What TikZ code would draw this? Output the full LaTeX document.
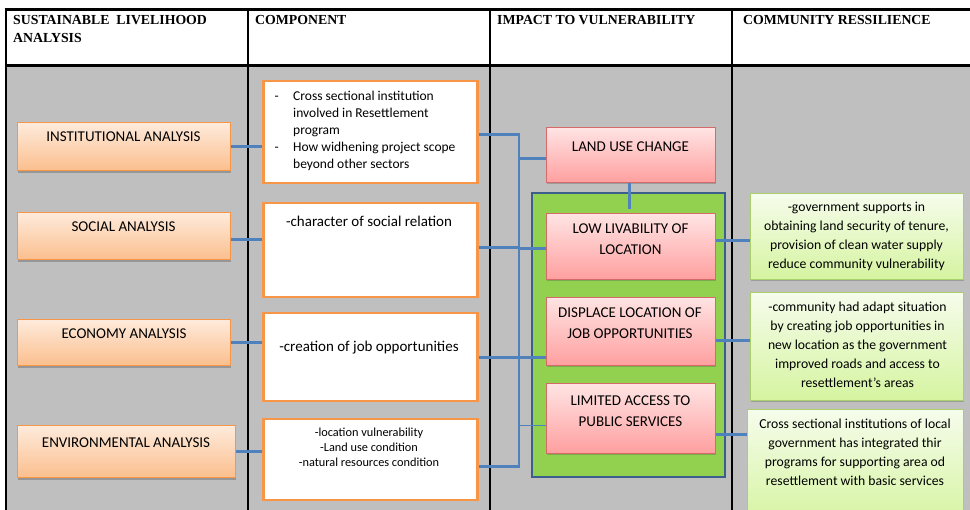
\documentclass[tikz,border=0pt]{standalone}
\usepackage{fontspec}
\setmainfont{Carlito}
\newfontfamily\hdfont{Liberation Serif}
\usetikzlibrary{shadows,calc}
\definecolor{bggray}{HTML}{BFBFBF}
\definecolor{orgborder}{HTML}{F79646}
\definecolor{orgtop}{HTML}{FEEBDC}
\definecolor{orgbot}{HTML}{FBBF8E}
\definecolor{pinkborder}{HTML}{D46A6A}
\definecolor{pinktop}{HTML}{FFE4E4}
\definecolor{pinkbot}{HTML}{FF9F9F}
\definecolor{resborder}{HTML}{A9D06B}
\definecolor{restop}{HTML}{F6FCEC}
\definecolor{resbot}{HTML}{D5F4A0}
\definecolor{contfill}{HTML}{92D050}
\definecolor{contborder}{HTML}{3B5E8C}
\definecolor{connblue}{HTML}{4F81BD}
\newcommand\fl{\rule{0pt}{0.8em}}
\tikzset{
  boxbase/.style={rectangle, inner sep=0pt, anchor=north west},
  orgbox/.style={boxbase, draw=orgborder, line width=0.8pt, top color=orgtop, bottom color=orgbot,
    drop shadow={shadow xshift=1pt, shadow yshift=-2.5pt, opacity=.35, fill=black!70}},
  compbox/.style={boxbase, draw=orgborder, line width=2.5pt, fill=white},
  pinkbox/.style={boxbase, draw=pinkborder, line width=0.8pt, top color=pinktop, bottom color=pinkbot,
    drop shadow={shadow xshift=1pt, shadow yshift=-2pt, opacity=.3, fill=black!70}},
  resbox/.style={boxbase, draw=resborder, line width=0.8pt, top color=restop, bottom color=resbot,
    drop shadow={shadow xshift=1pt, shadow yshift=-2pt, opacity=.3, fill=black!70}},
  contbox/.style={boxbase, draw=contborder, line width=2.2pt, fill=contfill},
  conn/.style={draw=connblue, line width=2.6pt},
  thinconn/.style={draw=connblue, line width=1.6pt},
  hd/.style={font=\hdfont\bfseries\fontsize{13.8}{18}\selectfont, inner sep=0pt, anchor=base west},
  lbl/.style={inner sep=0pt, align=center},
  lefttxt/.style={lbl, font=\fontsize{15}{18}\selectfont, anchor=base},
  imptxt/.style={lbl, font=\fontsize{15}{21.5}\selectfont},
  restxt/.style={lbl, font=\fontsize{13.7}{19.1}\selectfont, anchor=north},
}
\begin{document}
\begin{tikzpicture}[x=1pt,y=-1pt]
\useasboundingbox (0,0) rectangle (970,510);
\clip (0,0) rectangle (970,510);
\fill[white] (0,0) rectangle (970,510);
\fill[bggray] (6,66) rectangle (970,510);
% table grid
\draw[line width=3pt] (4.5,10) -- (970,10);
\draw[line width=3.5pt] (4.5,65.5) -- (970,65.5);
\foreach \x in {6,248,490,732} \draw[line width=2pt] (\x,10) -- (\x,512);
% headers
\node[hd] (h1a) at (13,25) {SUSTAINABLE\ \ LIVELIHOOD};
\node[hd] (h1b) at (13,43) {ANALYSIS};
\node[hd] (h2) at (255,25) {COMPONENT};
\node[hd] (h3) at (497,25) {IMPACT TO VULNERABILITY};
\node[hd] (h4) at (743,25) {COMMUNITY RESSILIENCE};
% green container
\node[contbox, minimum width=193pt, minimum height=284pt] (cont) at (531,192) {};
% left boxes
\node[orgbox, minimum width=213pt, minimum height=48pt] (inst) at (17,122) {};
\node[orgbox, minimum width=213pt, minimum height=47pt] (soc) at (17,212) {};
\node[orgbox, minimum width=213pt, minimum height=46pt] (eco) at (17,319) {};
\node[orgbox, minimum width=218pt, minimum height=52pt] (env) at (17,425) {};
% component boxes
\node[compbox, minimum width=214pt, minimum height=102pt] (comp1) at (262,80) {};
\node[compbox, minimum width=214pt, minimum height=94pt] (comp2) at (262,202) {};
\node[compbox, minimum width=214pt, minimum height=88pt] (comp3) at (262,312) {};
\node[compbox, minimum width=214pt, minimum height=81pt] (comp4) at (262,418) {};
% impact boxes
\node[pinkbox, minimum width=169pt, minimum height=55pt] (land) at (546,127) {};
\node[pinkbox, minimum width=169pt, minimum height=66pt] (low) at (546,213) {};
\node[pinkbox, minimum width=169pt, minimum height=68pt] (disp) at (546,297) {};
\node[pinkbox, minimum width=169pt, minimum height=70pt] (lim) at (546,383) {};
% resilience boxes
\node[resbox, minimum width=213pt, minimum height=86pt] (res1) at (750,193) {};
\node[resbox, minimum width=213pt, minimum height=108pt] (res2) at (750,292) {};
\node[resbox, minimum width=216pt, minimum height=115pt] (res3) at (747,409) {};
% connectors
\coordinate (bus) at (519,0);
\draw[conn] (inst.east) -- (inst.east -| comp1.west);
\draw[conn] ([yshift=-3.5pt]soc.east) -- ([yshift=-3.5pt]soc.east -| comp2.west);
\draw[conn] (eco.east) -- (eco.east -| comp3.west);
\draw[conn] (env.east) -- (env.east -| comp4.west);
\draw[conn] ([yshift=-2pt]comp1.east) -- ([yshift=-2pt]comp1.east -| bus) -- ([yshift=-7pt]comp4.east -| bus) -- ([yshift=-7pt]comp4.east);
\draw[conn] ([yshift=3pt]comp2.east) -- ([yshift=3pt]comp2.east -| bus);
\draw[conn] (comp3.east) -- (comp3.east -| disp.west);
\draw[conn] ([yshift=-3.5pt]land.west -| bus) -- ([yshift=-3.5pt]land.west);
\draw[conn] ([yshift=-2pt]low.west -| bus) -- ([yshift=-2pt]low.west);
\draw[thinconn] ([yshift=-7pt]lim.west -| bus) -- ([yshift=-7pt]lim.west);
\draw[conn] ([xshift=-1.5pt]land.south) -- ([xshift=-1.5pt,yshift=4pt]low.north);
\draw[conn] ([yshift=6pt]low.east) -- ([yshift=6pt]low.east -| res1.west);
\draw[conn] ([yshift=-9pt]disp.east) -- ([yshift=-9pt]disp.east -| res2.west);
\draw[conn] ([yshift=-16pt]lim.east) -- ([yshift=-16pt]lim.east -| res3.west);
% left texts
\node[lefttxt] (tinst) at (123.5,142) {INSTITUTIONAL ANALYSIS};
\node[lefttxt] (tsoc) at (123.5,232) {SOCIAL ANALYSIS};
\node[lefttxt] (teco) at (124,338.5) {ECONOMY ANALYSIS};
\node[lefttxt] (tenv) at (126,448) {ENVIRONMENTAL ANALYSIS};
% component texts
\node[inner sep=0pt, align=left, anchor=north west, font=\fontsize{13.5}{17}\selectfont] (tc1) at (274.5,89.2)
 {\fl\makebox[18.5pt][l]{-}Cross sectional institution\\
  \hspace*{18.5pt}involved in Resettlement\\
  \hspace*{18.5pt}program\\
  \makebox[18.5pt][l]{-}How widhening project scope\\
  \hspace*{18.5pt}beyond other sectors};
\node[lefttxt] (tc2) at (369,227) {-character of social relation};
\node[lefttxt] (tc3) at (369,352) {-creation of job opportunities};
\node[lbl, anchor=north, font=\fontsize{12.3}{15}\selectfont] (tc4) at (369,426.2)
 {\fl-location vulnerability\\-Land use condition\\-natural resources condition};
% impact texts
\node[lefttxt] (tland) at (630.5,152) {LAND USE CHANGE};
\node[imptxt, anchor=north] (tlow) at (630.5,221) {\fl LOW LIVABILITY OF\\LOCATION};
\node[imptxt, anchor=north] (tdisp) at (630,305) {\fl DISPLACE LOCATION OF\\JOB OPPORTUNITIES};
\node[imptxt, anchor=north] (tlim) at (630.5,393) {\fl LIMITED ACCESS TO\\PUBLIC SERVICES};
% resilience texts
\node[restxt] (tr1) at (856.5,200) {\fl-government supports in\\obtaining land security of tenure,\\provision of clean water supply\\reduce community vulnerability};
\node[restxt] (tr2) at (857.5,300) {\fl-community had adapt situation\\by creating job opportunities in\\new location as the government\\improved roads and access to\\resettlement’s areas};
\node[restxt] (tr3) at (855,417) {\fl Cross sectional institutions of local\\government has integrated thir\\programs for supporting area od\\resettlement with basic services};
\end{tikzpicture}
\end{document}
